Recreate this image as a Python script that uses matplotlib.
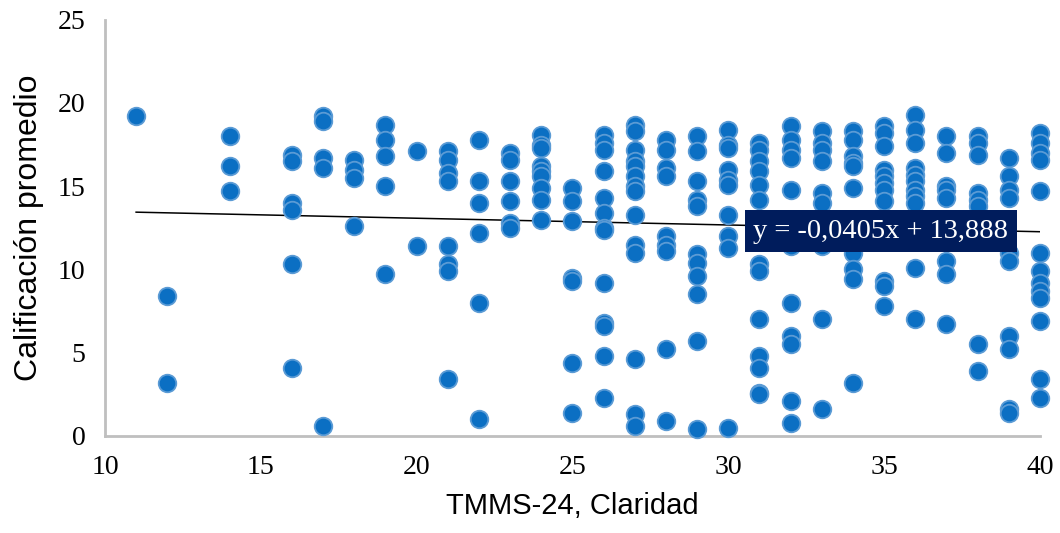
import matplotlib.pyplot as plt
import numpy as np

# TMMS-24 claridad score and the matching average grade, grouped by score
claridad_scores = [11, 12, 14, 16, 17, 18, 19, 20, 21, 22, 23, 24, 25, 26, 27,
                   28, 29, 30, 31, 32, 33, 34, 35, 36, 37, 38, 39, 40]
grades_by_score = [
    [19.2],
    [8.4, 3.2],
    [18.0, 16.2, 14.7],
    [16.9, 16.5, 14.0, 13.6, 10.3, 4.1],
    [19.2, 18.9, 16.7, 16.1, 0.6],
    [16.6, 16.0, 15.5, 12.6],
    [18.7, 17.8, 16.8, 15.0, 9.7],
    [17.1, 11.4],
    [17.1, 16.6, 15.8, 15.3, 11.4, 10.3, 9.9, 3.4],
    [17.8, 15.3, 14.0, 12.2, 8.0, 1.0],
    [17.0, 16.6, 15.3, 14.1, 12.8, 12.5],
    [18.1, 17.5, 17.3, 16.2, 15.9, 15.6, 14.9, 14.2, 13.0],
    [14.9, 14.1, 12.9, 9.5, 9.3, 4.4, 1.4],
    [18.1, 17.6, 17.2, 15.9, 14.3, 13.4, 12.5, 12.4, 9.2, 6.8, 6.6, 4.8, 2.3],
    [18.7, 18.3, 17.2, 16.5, 16.2, 15.6, 15.0, 14.7, 13.3, 11.5, 11.0, 4.6, 1.3, 0.6],
    [17.8, 17.2, 16.1, 15.6, 12.0, 11.5, 11.1, 5.2, 0.9],
    [18.0, 17.1, 15.3, 14.2, 13.8, 10.9, 10.4, 9.6, 8.5, 5.7, 0.4],
    [18.4, 17.5, 17.3, 16.0, 15.4, 15.1, 13.3, 12.0, 11.3, 0.5],
    [17.6, 17.2, 16.5, 15.9, 15.1, 14.2, 12.4, 10.3, 9.9, 7.0, 4.8, 4.1, 2.6, 2.5],
    [18.6, 17.8, 17.2, 16.7, 14.8, 11.4, 8.0, 6.0, 5.5, 2.1, 0.8],
    [18.3, 17.6, 17.2, 16.5, 14.6, 14.0, 11.4, 7.0, 1.6],
    [18.3, 17.8, 16.8, 16.4, 16.2, 14.9, 11.0, 10.0, 9.4, 3.2],
    [18.6, 18.2, 17.4, 16.0, 15.6, 15.2, 14.8, 14.1, 9.3, 9.0, 7.8],
    [19.3, 18.4, 17.6, 16.1, 15.7, 15.3, 14.8, 14.4, 14.0, 10.1, 7.0],
    [18.0, 17.0, 15.0, 14.8, 14.3, 12.5, 10.5, 9.7, 6.7],
    [18.0, 17.6, 16.9, 14.6, 14.2, 13.8, 5.5, 3.9],
    [16.7, 15.6, 14.8, 14.3, 11.0, 10.5, 6.0, 5.2, 1.6, 1.4],
    [18.2, 17.6, 17.0, 16.6, 14.7, 11.0, 9.9, 9.2, 8.7, 8.3, 6.9, 3.4, 2.3],
]

# trend line reported by the spreadsheet
slope = -0.0405
intercept = 13.888

x = np.concatenate([[s] * len(g) for s, g in zip(claridad_scores, grades_by_score)])
y = np.concatenate(grades_by_score)

fig = plt.figure(figsize=(10.6, 5.33), dpi=100)
ax = fig.add_axes([0.099, 0.182, 0.882, 0.781])

ax.scatter(x, y, s=160, color="#0B6FC3", edgecolors="#5B9BD5", linewidths=1.3,
           zorder=3, clip_on=False)

line_x = np.array([x.min(), x.max()])
ax.plot(line_x, slope * line_x + intercept, color="black", linewidth=1.1, zorder=2)

ax.text(34.9, 12.3, "y = -0,0405x + 13,888", fontsize=20.5, family="Liberation Serif",
        color="white", ha="center", va="center", zorder=5,
        bbox=dict(boxstyle="square,pad=0.3", facecolor="#001C5C", edgecolor="none"))

ax.set_xlim(10, 40)
ax.set_ylim(0, 25)
ax.set_xticks(range(10, 41, 5))
ax.set_yticks(range(0, 26, 5))
ax.tick_params(length=0, pad=14, labelsize=20)
for lbl in ax.get_xticklabels() + ax.get_yticklabels():
    lbl.set_family("Liberation Serif")

for side in ("top", "right"):
    ax.spines[side].set_visible(False)
for side in ("left", "bottom"):
    ax.spines[side].set_color("#BFBFBF")
    ax.spines[side].set_linewidth(2)

ax.set_xlabel("TMMS-24, Claridad", fontsize=21, family="Liberation Sans", labelpad=8)
ax.set_ylabel("Calificación promedio", fontsize=23, family="Liberation Sans", labelpad=10)

fig.savefig("out.png", dpi=100)
